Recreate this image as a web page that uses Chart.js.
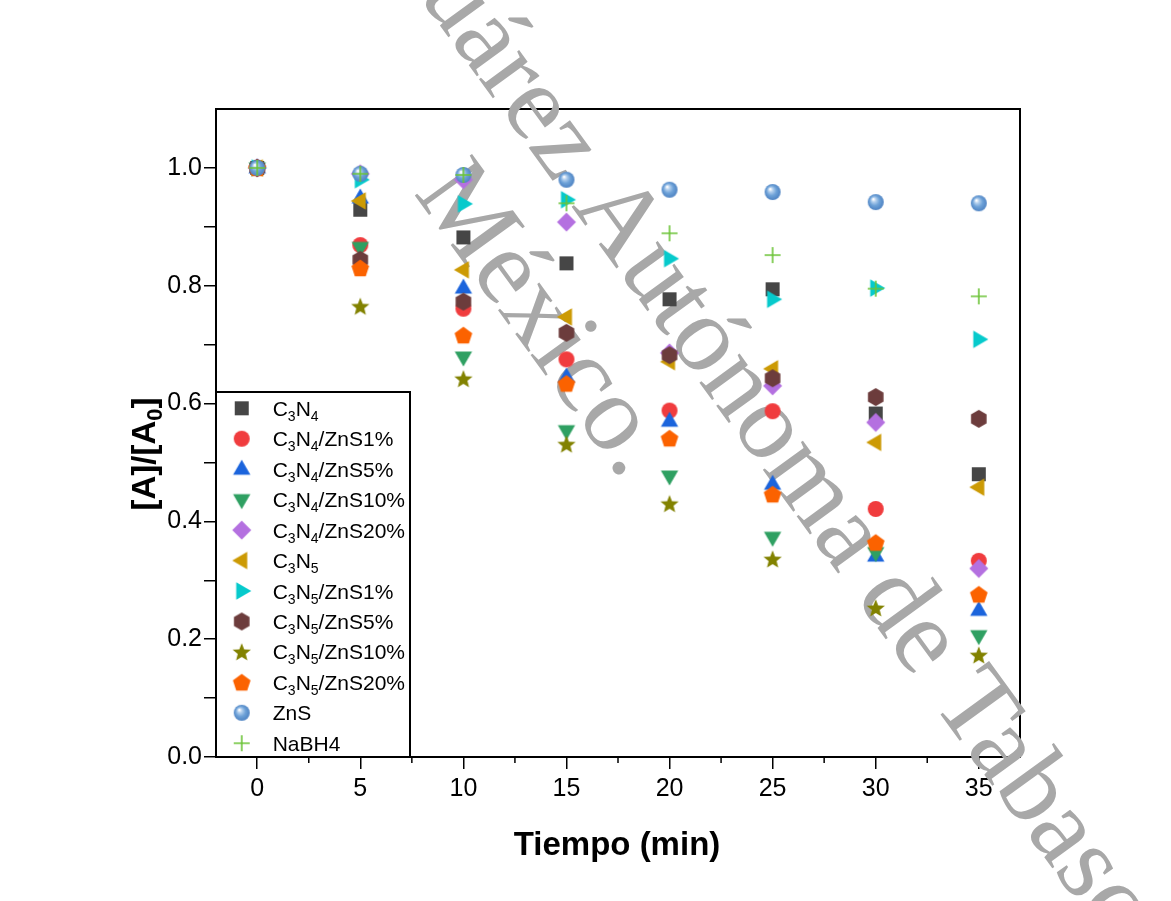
<!DOCTYPE html>
<html><head><meta charset="utf-8">
<script src="https://cdn.jsdelivr.net/npm/chart.js@4.4.1/dist/chart.umd.min.js"></script>
<style>html,body{margin:0;padding:0;background:#fff;overflow:hidden}</style>
</head><body>
<canvas id="c" width="1171" height="901"></canvas>
<script>
const FONT = "'Liberation Sans', Arial, Helvetica, sans-serif";

// ---- data ----
const times = [0, 5, 10, 15, 20, 25, 30, 35];
const yC3N4      = [1, 0.929, 0.882, 0.838, 0.777, 0.794, 0.583, 0.480];
const yC3N4ZnS1  = [1, 0.869, 0.761, 0.675, 0.588, 0.587, 0.421, 0.333];
const yC3N4ZnS5  = [1, 0.949, 0.796, 0.645, 0.570, 0.463, 0.341, 0.249];
const yC3N4ZnS10 = [1, 0.865, 0.679, 0.554, 0.477, 0.373, 0.347, 0.206];
const yC3N4ZnS20 = [1, 0.990, 0.980, 0.908, 0.686, 0.630, 0.568, 0.320];
const yC3N5      = [1, 0.944, 0.827, 0.747, 0.671, 0.659, 0.534, 0.458];
const yC3N5ZnS1  = [1, 0.980, 0.939, 0.946, 0.846, 0.777, 0.796, 0.709];
const yC3N5ZnS5  = [1, 0.844, 0.773, 0.720, 0.682, 0.643, 0.611, 0.574];
const yC3N5ZnS10 = [1, 0.765, 0.642, 0.531, 0.430, 0.336, 0.253, 0.173];
const yC3N5ZnS20 = [1, 0.830, 0.716, 0.634, 0.541, 0.446, 0.364, 0.276];
const yZnS       = [1, 0.990, 0.988, 0.980, 0.963, 0.959, 0.942, 0.940];
const yNaBH4     = [1, 0.990, 0.988, 0.940, 0.889, 0.852, 0.795, 0.782];

const seriesLabels = ['C3N4', 'C3N4/ZnS1%', 'C3N4/ZnS5%', 'C3N4/ZnS10%', 'C3N4/ZnS20%',
  'C3N5', 'C3N5/ZnS1%', 'C3N5/ZnS5%', 'C3N5/ZnS10%', 'C3N5/ZnS20%', 'ZnS', 'NaBH4'];
const seriesValues = [yC3N4, yC3N4ZnS1, yC3N4ZnS5, yC3N4ZnS10, yC3N4ZnS20,
  yC3N5, yC3N5ZnS1, yC3N5ZnS5, yC3N5ZnS10, yC3N5ZnS20, yZnS, yNaBH4];

const xTickLabels = [0, 5, 10, 15, 20, 25, 30, 35];
const yTickLabels = ['0.0', '0.2', '0.4', '0.6', '0.8', '1.0'];
const xTitle = 'Tiempo (min)';

// ---- marker images ----
const markerKinds = ['square','circle','up','down','diamond','left','right','hexagon','star','pentagon','sphere','plus'];
const markerColors = ['#464646','#f03c3e','#1b64dc','#2fa062','#b470e0','#cc9a04','#06cacc','#6c3c3c','#828200','#fb6200','#5f97d2','#6cc437'];

function polyPath(g, cx, cy, r, n, startDeg) {
  for (let i = 0; i < n; i++) {
    const a = (startDeg + i * 360 / n) * Math.PI / 180;
    const px = cx + r * Math.cos(a), py = cy + r * Math.sin(a);
    if (i === 0) g.moveTo(px, py); else g.lineTo(px, py);
  }
  g.closePath();
}
function makeMarker(kind, color) {
  const s = 26, c = 13;
  const cv = document.createElement('canvas');
  cv.width = s; cv.height = s;
  const g = cv.getContext('2d');
  g.fillStyle = color; g.strokeStyle = color;
  g.beginPath();
  switch (kind) {
    case 'square': g.rect(c - 7, c - 7, 14, 14); g.fill(); break;
    case 'circle': g.arc(c, c, 8, 0, Math.PI * 2); g.fill(); break;
    case 'up': polyPath(g, c, c + 0.5, 10, 3, -90); g.fill(); break;
    case 'down': polyPath(g, c, c - 0.5, 10, 3, 90); g.fill(); break;
    case 'left': polyPath(g, c + 0.5, c, 10, 3, 180); g.fill(); break;
    case 'right': polyPath(g, c - 0.5, c, 10, 3, 0); g.fill(); break;
    case 'diamond': polyPath(g, c, c, 9.5, 4, -90); g.fill(); break;
    case 'hexagon': polyPath(g, c, c, 9, 6, -90); g.fill(); break;
    case 'pentagon': polyPath(g, c, c + 0.8, 9.3, 5, -90); g.fill(); break;
    case 'star': {
      for (let i = 0; i < 10; i++) {
        const r = i % 2 === 0 ? 9.6 : 4.2;
        const a = (-90 + i * 36) * Math.PI / 180;
        const px = c + r * Math.cos(a), py = c + 0.8 + r * Math.sin(a);
        if (i === 0) g.moveTo(px, py); else g.lineTo(px, py);
      }
      g.closePath(); g.fill(); break;
    }
    case 'sphere': {
      const grd = g.createRadialGradient(c - 2.5, c - 3, 0.5, c, c, 8.5);
      grd.addColorStop(0, '#ffffff');
      grd.addColorStop(0.22, '#b4d0ee');
      grd.addColorStop(0.55, '#6ea2d8');
      grd.addColorStop(1, '#4a7fc0');
      g.fillStyle = grd;
      g.arc(c, c, 8, 0, Math.PI * 2); g.fill(); break;
    }
    case 'plus':
      g.lineWidth = 1.6;
      g.moveTo(c - 8, c); g.lineTo(c + 8, c);
      g.moveTo(c, c - 8); g.lineTo(c, c + 8);
      g.stroke(); break;
  }
  return cv;
}
const markerImages = markerKinds.map((k, i) => makeMarker(k, markerColors[i]));

// ---- helpers ----
function drawChemLabel(ctx, label, x, y) {
  const m = label.match(/^C(\d)N(\d)(.*)$/);
  const parts = m ? [['C', 0], [m[1], 1], ['N', 0], [m[2], 1], [m[3], 0]] : [[label, 0]];
  let cx = x;
  ctx.textAlign = 'left';
  ctx.textBaseline = 'alphabetic';
  ctx.fillStyle = '#000';
  for (const [t, sub] of parts) {
    if (!t) continue;
    ctx.font = (sub ? '14px ' : '21px ') + FONT;
    ctx.fillText(t, cx, sub ? y + 5 : y);
    cx += ctx.measureText(t).width;
  }
}

const decor = {
  id: 'decor',
  beforeDraw(chart) {
    const ctx = chart.ctx;
    ctx.save();
    ctx.fillStyle = '#fff';
    ctx.fillRect(0, 0, chart.width, chart.height);
    ctx.restore();
  },
  beforeDatasetsDraw(chart) {
    const ctx = chart.ctx, a = chart.chartArea;
    const xs = chart.scales.x;
    ctx.save();
    // top & right frame
    ctx.strokeStyle = '#000'; ctx.lineWidth = 2;
    ctx.beginPath();
    ctx.moveTo(a.left - 1, a.top); ctx.lineTo(a.right, a.top); ctx.lineTo(a.right, a.bottom + 1);
    ctx.stroke();
    // minor x ticks
    ctx.lineWidth = 1.5;
    ctx.beginPath();
    for (let v = 2.5; v < 37; v += 5) {
      const px = xs.getPixelForValue(v);
      ctx.moveTo(px, a.bottom); ctx.lineTo(px, a.bottom + 6);
    }
    ctx.stroke();
    // watermark
    ctx.fillStyle = '#a8a8a8';
    ctx.font = "108px 'Liberation Serif', 'DejaVu Serif', serif";
    ctx.textBaseline = 'alphabetic';
    const ang = 54 * Math.PI / 180;
    ctx.save();
    ctx.translate(571, 206); ctx.rotate(ang);
    ctx.textAlign = 'left'; ctx.fillText('Autónoma de Tabasco', 0, 0);
    ctx.textAlign = 'right'; ctx.fillText('Universidad Juárez ', 0, 0);
    ctx.restore();
    ctx.save();
    ctx.translate(413, 193); ctx.rotate(ang);
    ctx.textAlign = 'left'; ctx.fillText('México.', 0, 0);
    ctx.restore();
    ctx.restore();
  },
  afterDraw(chart) {
    const ctx = chart.ctx, a = chart.chartArea;
    ctx.save();
    // legend box
    const lx = a.left, ly = 392, lr = 410, lb = a.bottom;
    ctx.fillStyle = '#fff';
    ctx.fillRect(lx, ly, lr - lx, lb - ly);
    ctx.strokeStyle = '#000'; ctx.lineWidth = 2;
    ctx.strokeRect(lx, ly, lr - lx, lb - ly);
    for (let i = 0; i < seriesLabels.length; i++) {
      const cy = 408.3 + i * 30.45;
      const img = markerImages[i];
      ctx.drawImage(img, 241.7 - img.width / 2, cy - img.height / 2);
      drawChemLabel(ctx, seriesLabels[i], 272.7, cy + 7.5);
    }
    // x title
    ctx.fillStyle = '#000';
    ctx.font = 'bold 33px ' + FONT;
    ctx.textAlign = 'center'; ctx.textBaseline = 'alphabetic';
    ctx.fillText(xTitle, (a.left + a.right) / 2 - 1, 855);
    // y title [A]/[A0]
    ctx.save();
    ctx.translate(155, 454); ctx.rotate(-Math.PI / 2);
    const parts = [['[A]/[A', 0], ['0', 1], [']', 0]];
    let total = 0;
    for (const [t, s] of parts) { ctx.font = (s ? 'bold 22px ' : 'bold 33px ') + FONT; total += ctx.measureText(t).width; }
    let cx = -total / 2;
    ctx.textAlign = 'left';
    for (const [t, s] of parts) {
      ctx.font = (s ? 'bold 22px ' : 'bold 33px ') + FONT;
      ctx.fillText(t, cx, s ? 7 : 0);
      cx += ctx.measureText(t).width;
    }
    ctx.restore();
    ctx.restore();
  }
};

const datasets = seriesLabels.map((lab, i) => ({
  label: lab,
  data: times.map((t, j) => ({ x: t, y: seriesValues[i][j] })),
  pointStyle: markerImages[i],
  pointRadius: 8,
  showLine: false,
  order: seriesLabels.length - i
}));

new Chart(document.getElementById('c'), {
  type: 'scatter',
  data: { datasets },
  options: {
    responsive: false,
    devicePixelRatio: 1,
    animation: false,
    events: [],
    clip: false,
    layout: { padding: { left: 0, top: 109, right: 151, bottom: 0 } },
    plugins: { legend: { display: false }, tooltip: { enabled: false }, title: { display: false } },
    scales: {
      x: {
        type: 'linear', min: -2, max: 37,
        afterFit: s => { s.height = 144; },
        ticks: {
          stepSize: 2.5, includeBounds: false, autoSkip: false, maxRotation: 0, minRotation: 0,
          padding: 5, color: '#000', font: { family: FONT, size: 25 },
          callback: v => (xTickLabels.includes(v) ? String(v) : '')
        },
        grid: {
          display: true, drawOnChartArea: false, drawTicks: true, tickLength: 12,
          lineWidth: 1.5, tickWidth: 1.5,
          tickColor: ctx => (ctx.tick && xTickLabels.includes(ctx.tick.value) ? '#000' : 'rgba(0,0,0,0)')
        },
        border: { display: true, color: '#000', width: 2 }
      },
      y: {
        type: 'linear', min: 0, max: 1.1,
        afterFit: s => { s.width = 216; },
        ticks: {
          stepSize: 0.1, autoSkip: false, padding: 2, color: '#000', font: { family: FONT, size: 25 },
          callback: v => { const l = v.toFixed(1); return yTickLabels.includes(l) ? l : ''; }
        },
        grid: {
          display: true, drawOnChartArea: false, drawTicks: true, tickLength: 12,
          lineWidth: 1.5, tickWidth: 1.5,
          tickColor: ctx => (ctx.tick && ctx.tick.value > 1.05 ? 'rgba(0,0,0,0)' : '#000')
        },
        border: { display: true, color: '#000', width: 2 }
      }
    }
  },
  plugins: [decor]
});
</script>
</body></html>
